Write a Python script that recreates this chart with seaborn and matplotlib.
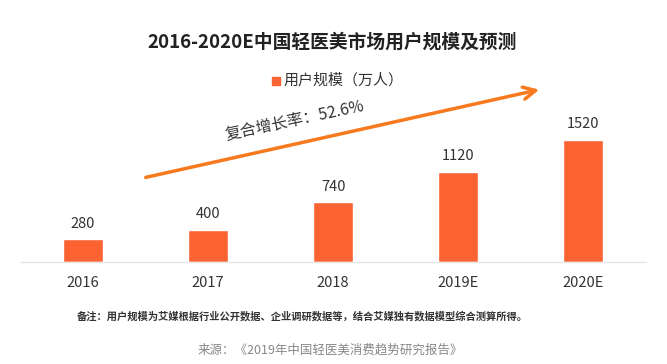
import pandas as pd
import matplotlib.pyplot as plt
import seaborn as sns

years = ['2016', '2017', '2018', '2019E', '2020E']
users = [280, 400, 740, 1120, 1520]
series_name = '用户规模（万人）'
title = '2016-2020E中国轻医美市场用户规模及预测'
cagr_text = '复合增长率：52.6%'
note = '备注：用户规模为艾媒根据行业公开数据、企业调研数据等，结合艾媒独有数据模型综合测算所得。'
source = '来源：《2019年中国轻医美消费趋势研究报告》'

bar_color = '#FB6333'
arrow_color = '#F77A1E'

sns.set_theme(style='white')
plt.rcParams['font.family'] = ['Noto Sans CJK SC', 'DejaVu Sans']

df = pd.DataFrame({'year': years, 'users': users})

fig = plt.figure(figsize=(6.67, 3.64), dpi=100)
W, H = 667, 364
ax = fig.add_axes([20.5 / W, 1 - 262 / H, 625 / W, 161 / H])

sns.barplot(data=df, x='year', y='users', color=bar_color, width=0.32,
            saturation=1, ax=ax)
ax.set_xlim(-0.5, 4.5)
ax.set_ylim(0, 2000)
ax.set_yticks([])
ax.set_xlabel('')
ax.set_ylabel('')
for s in ['top', 'left', 'right']:
    ax.spines[s].set_visible(False)
ax.spines['bottom'].set_color('#e6e6e6')
ax.spines['bottom'].set_linewidth(1)
ax.tick_params(axis='x', length=0, pad=10, labelsize=10.5, labelcolor='#333333')

for i, v in enumerate(users):
    ax.text(i, v + 110, str(v), ha='center', va='bottom', fontsize=10.5, color='#333333')

fig.text(332 / W, 1 - 42 / H, title, ha='center', va='center', fontsize=13.5,
         fontweight='bold', color='#222222')

# legend
fig.patches.append(plt.Rectangle((272 / W, 1 - 85 / H), 8 / W, 8 / H,
                                 transform=fig.transFigure, color=bar_color))
fig.text(284 / W, 1 - 80 / H, series_name, ha='left', va='center', fontsize=10.8,
         color='#333333')

# growth arrow
ax.annotate('', xy=(542 / W, 1 - 89 / H), xytext=(143 / W, 1 - 178 / H),
            xycoords='figure fraction', textcoords='figure fraction',
            arrowprops=dict(arrowstyle='->', color=arrow_color, lw=2.5,
                            mutation_scale=22))
fig.text(295 / W, 1 - 121 / H, cagr_text, ha='center', va='center', fontsize=11.5,
         rotation=12, color='#333333')

fig.text(302 / W, 1 - 316 / H, note, ha='center', va='center', fontsize=7.4,
         fontweight='bold', color='#333333')
fig.text(330 / W, 1 - 350 / H, source, ha='center', va='center', fontsize=9,
         color='#888888')

fig.savefig('out.png', dpi=100)
